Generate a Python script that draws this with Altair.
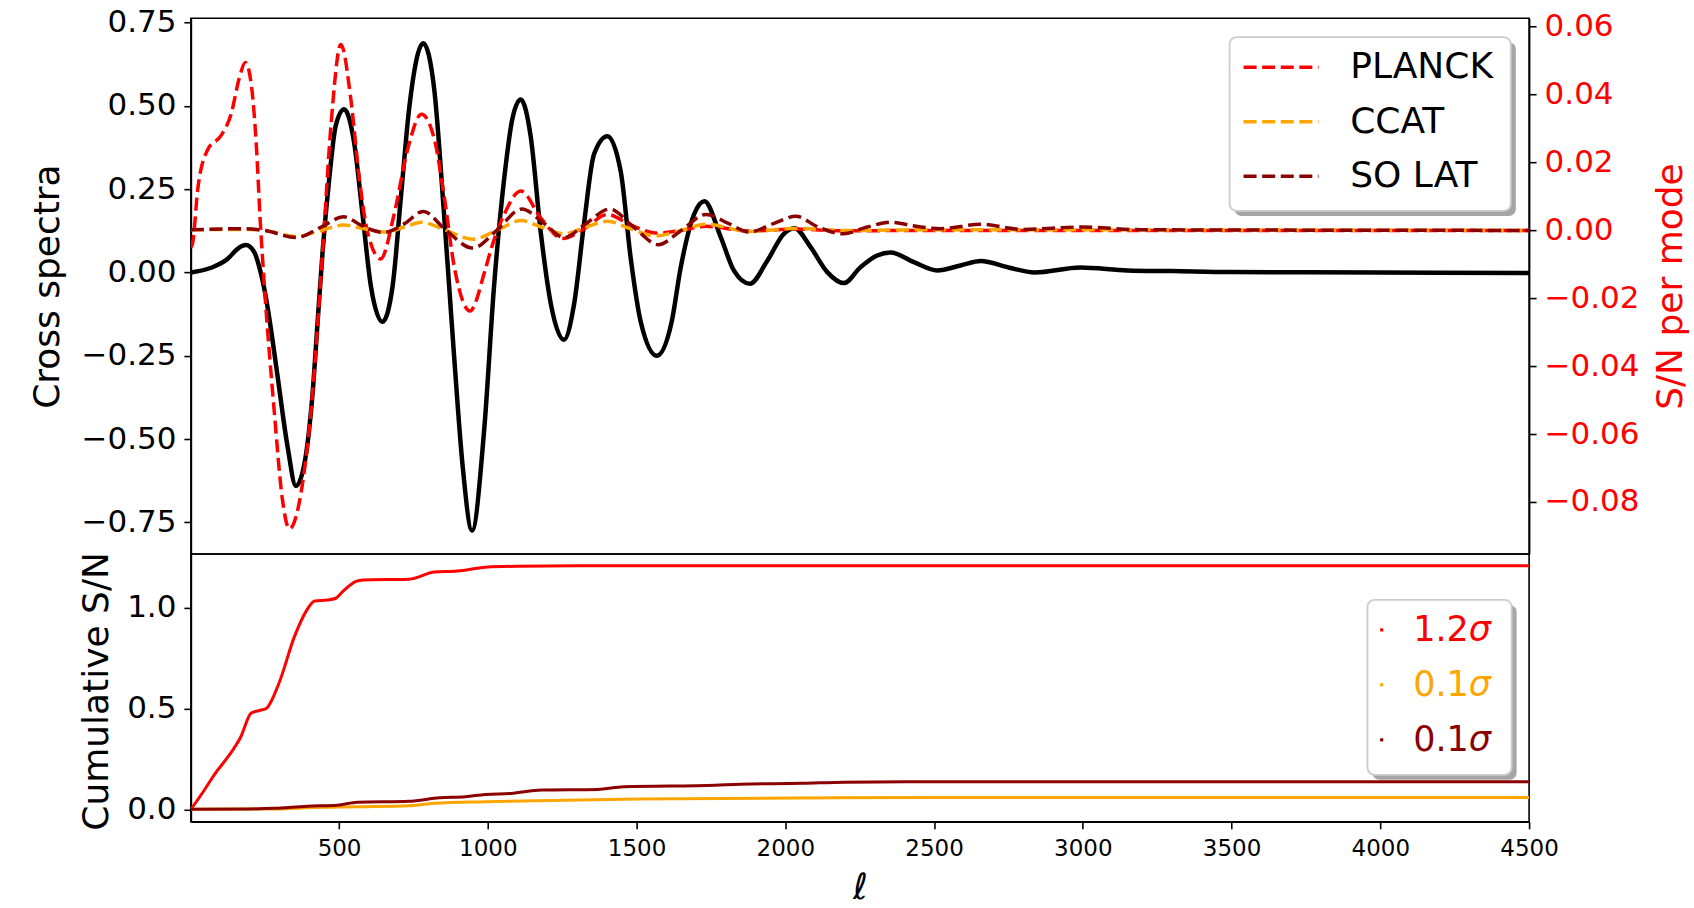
import altair as alt
import pandas as pd

FONT = "DejaVu Sans"
RED, ORANGE, DARKRED = "#ff0000", "#ffa500", "#8b0000"
SHADOW = "#a6a6a6"

# ---------------- data ----------------
# Cross spectrum (black, left axis of the upper panel)
cross_ell = [2, 70, 126, 159, 187, 215, 232, 243, 254, 265, 293, 327, 355, 383, 411, 428, 445,
             467, 489, 517, 551, 579, 607, 646, 680, 708, 736, 783, 820, 853, 887, 915, 947, 988,
             1021, 1055, 1083, 1111, 1144, 1178, 1212, 1256, 1290, 1324, 1357, 1402, 1447, 1480,
             1514, 1568, 1618, 1648, 1693, 1728, 1783, 1827, 1881, 1940, 1995, 2031, 2085, 2141,
             2197, 2253, 2309, 2354, 2432, 2511, 2589, 2657, 2750, 2838, 2992, 3150, 3300, 3500,
             4000, 4500]
cross_val = [0.0, 0.014, 0.041, 0.071, 0.082, 0.061, 0.016, -0.024, -0.074, -0.134, -0.309,
             -0.523, -0.641, -0.577, -0.363, -0.148, 0.066, 0.281, 0.441, 0.490, 0.388, 0.174,
             -0.041, -0.148, -0.041, 0.227, 0.495, 0.688, 0.549, 0.174, -0.255, -0.577, -0.775,
             -0.47, -0.041, 0.281, 0.463, 0.519, 0.409, 0.12, -0.095, -0.202, -0.095, 0.151,
             0.355, 0.409, 0.302, 0.045, -0.148, -0.25, -0.148, 0.013, 0.174, 0.214, 0.106,
             0.006, -0.034, 0.036, 0.116, 0.133, 0.076, 0.001, -0.032, 0.016, 0.051, 0.060, 0.031,
             0.006, 0.021, 0.034, 0.015, 0.0, 0.015, 0.006, 0.004, 0.001, 0.0, -0.002]

# S/N per mode (dashed, right axis of the upper panel)
planck_ell = [2, 8, 25, 58, 103, 137, 165, 185, 205, 222, 235, 249, 282, 310, 333, 372, 411, 445,
              473, 506, 540, 568, 596, 640, 685, 730, 777, 820, 850, 890, 940, 990, 1010, 1055,
              1111, 1178, 1251, 1324, 1402, 1480, 1570, 1650, 1734, 1880, 2030, 2200, 2500, 4500]
planck_sn = [-0.005, -0.0037, 0.0121, 0.0237, 0.0279, 0.0342, 0.045, 0.0495, 0.043, 0.025, 0.003,
             -0.0163, -0.0531, -0.0795, -0.0879, -0.0774, -0.0479, -0.0058, 0.0311, 0.0548, 0.0384,
             0.0153, -0.0005, -0.0084, 0.0047, 0.0237, 0.0342, 0.027, 0.012, -0.012, -0.0237,
             -0.012, -0.0058, 0.0047, 0.0116, 0.0037, -0.0024, 0.0005, 0.0047, 0.0016, -0.0008,
             0.0, 0.0012, -0.0002, 0.0004, -0.0001, 0.0, 0.0]

ccat_ell = [2, 200, 250, 355, 440, 515, 585, 652, 720, 777, 860, 949, 1030, 1111, 1180, 1256,
            1330, 1402, 1480, 1565, 1650, 1734, 1880, 2030, 2200, 2500, 4500]
ccat_sn = [0.0002, 0.0003, 0.0, -0.0018, 0.0, 0.0016, 0.0005, -0.0005, 0.001, 0.0024, 0.0,
           -0.0026, 0.0, 0.0029, 0.001, -0.001, 0.001, 0.0027, 0.0005, -0.0016, 0.0, 0.0018,
           -0.0003, 0.0006, 0.0, 0.0002, 0.0]

solat_ell = [2, 180, 250, 355, 440, 515, 585, 652, 720, 783, 860, 949, 1030, 1114, 1190, 1256,
             1330, 1410, 1490, 1573, 1650, 1734, 1810, 1878, 1960, 2036, 2110, 2195, 2275, 2354,
             2440, 2521, 2657, 2799, 2992, 3200, 4500]
solat_sn = [0.0002, 0.0005, 0.0, -0.0021, 0.001, 0.004, 0.001, -0.0006, 0.002, 0.0056, 0.0,
            -0.0052, 0.0, 0.0063, 0.002, -0.0021, 0.002, 0.0063, 0.001, -0.0042, 0.0, 0.0047,
            0.002, -0.0005, 0.002, 0.0042, 0.001, -0.001, 0.001, 0.0024, 0.0012, 0.0005, 0.0018,
            0.0003, 0.001, 0.0002, 0.0]

# Cumulative S/N (lower panel)
cum_planck_ell = [2, 40, 84, 127, 170, 204, 230, 255, 298, 350, 392, 418, 461, 487, 512, 555, 581,
                  735, 821, 898, 992, 1100, 1300, 4500]
cum_planck = [0.0, 0.08, 0.179, 0.261, 0.36, 0.476, 0.489, 0.5, 0.625, 0.856, 0.989, 1.033, 1.038,
              1.045, 1.079, 1.129, 1.137, 1.141, 1.176, 1.181, 1.2, 1.205, 1.207, 1.208]

cum_ccat_ell = [2, 300, 392, 561, 735, 821, 992, 1164, 1507, 2055, 2500, 4500]
cum_ccat = [0.0, 0.002, 0.008, 0.013, 0.018, 0.03, 0.038, 0.043, 0.051, 0.056, 0.059, 0.059]

cum_solat_ell = [2, 200, 280, 392, 494, 561, 735, 838, 924, 992, 1078, 1181, 1370, 1456, 1765,
                 1850, 2055, 2200, 2500, 4500]
cum_solat = [0.0, 0.002, 0.005, 0.016, 0.021, 0.035, 0.04, 0.058, 0.063, 0.074, 0.079, 0.096,
             0.099, 0.112, 0.12, 0.125, 0.129, 0.135, 0.137, 0.137]

experiments = ["PLANCK", "CCAT", "SO LAT"]
colors = [RED, ORANGE, DARKRED]
sn_series = [(planck_ell, planck_sn), (ccat_ell, ccat_sn), (solat_ell, solat_sn)]
cum_series = [(cum_planck_ell, cum_planck), (cum_ccat_ell, cum_ccat), (cum_solat_ell, cum_solat)]

# axis ticks and ranges
ell_ticks = [500, 1000, 1500, 2000, 2500, 3000, 3500, 4000, 4500]
cross_ticks = [-0.75, -0.5, -0.25, 0.0, 0.25, 0.5, 0.75]
sn_ticks = [-0.08, -0.06, -0.04, -0.02, 0.0, 0.02, 0.04, 0.06]
cum_ticks = [0.0, 0.5, 1.0]
ell_domain = [2, 4500]
cross_domain = [-0.845, 0.763]
sn_domain = [-0.0953, 0.0625]
cum_domain = [-0.0615, 1.266]

# ---------------- layout ----------------
W, H_TOP, H_BOT = 1339, 536, 268
DASH = [13, 5.6]
one = pd.DataFrame({"k": [0]})


def legend_frame(x0, y0, x1, y1):
    shadow = alt.Chart(one).mark_rect(color=SHADOW, cornerRadius=7).encode(
        x=alt.value(x0 + 5), x2=alt.value(x1 + 5), y=alt.value(y0 + 5), y2=alt.value(y1 + 5))
    frame = alt.Chart(one).mark_rect(fill="white", stroke="#cccccc", strokeWidth=1.8,
                                     cornerRadius=7).encode(
        x=alt.value(x0), x2=alt.value(x1), y=alt.value(y0), y2=alt.value(y1))
    return [shadow, frame]


# ---------------- upper panel ----------------
x_top = alt.X("ell:Q", scale=alt.Scale(domain=ell_domain, nice=False, zero=False), axis=None)

black = alt.Chart(pd.DataFrame({"ell": cross_ell, "value": cross_val})).mark_line(
    color="black", strokeWidth=4.5, interpolate="monotone", clip=True
).encode(
    x=x_top,
    y=alt.Y("value:Q", scale=alt.Scale(domain=cross_domain, nice=False, zero=False),
            axis=alt.Axis(orient="left", values=cross_ticks, format=".2f", title="Cross spectra",
                          titleX=-124, titleY=H_TOP / 2, titleAngle=270,
                          titleBaseline="bottom", titleAlign="center")),
)

sn_scale = alt.Scale(domain=sn_domain, nice=False, zero=False)
sn_axis = alt.Axis(orient="right", values=sn_ticks, format=".2f", title="S/N per mode",
                   labelColor=RED, titleColor=RED, titleX=160, titleY=H_TOP / 2,
                   titleAngle=270, titleBaseline="bottom", titleAlign="center")
dashed_layers = []
for name, color, (ell, sn) in zip(experiments, colors, sn_series):
    dashed_layers.append(
        alt.Chart(pd.DataFrame({"ell": ell, "sn": sn, "experiment": name})).mark_line(
            color=color, strokeWidth=3.5, strokeDash=DASH, interpolate="monotone", clip=True
        ).encode(x=x_top, y=alt.Y("sn:Q", scale=sn_scale, axis=sn_axis))
    )
dashed = alt.layer(*dashed_layers)

legend_top = legend_frame(1039.3, 18.9, 1320.7, 192.8)
for i, (name, color) in enumerate(zip(experiments, colors)):
    yy = 48.9 + i * 54.6
    legend_top.append(alt.Chart(one).mark_rule(color=color, strokeWidth=3.5, strokeDash=DASH).encode(
        x=alt.value(1053.3), x2=alt.value(1128.3), y=alt.value(yy)))
    legend_top.append(alt.Chart(one).mark_text(align="left", baseline="middle", fontSize=36,
                                              color="black", font=FONT).encode(
        x=alt.value(1160), y=alt.value(yy), text=alt.value(name)))

top = alt.layer(black, dashed, *legend_top).resolve_scale(y="independent").properties(
    width=W, height=H_TOP)

# ---------------- lower panel ----------------
x_bot = alt.X("ell:Q", scale=alt.Scale(domain=ell_domain, nice=False, zero=False),
              axis=alt.Axis(values=ell_ticks, format="d", title="ℓ", labelFontSize=23,
                            labelPadding=9, titleFontSize=36, titleFontStyle="italic",
                            titleY=49, titleBaseline="top"))
cum_scale = alt.Scale(domain=cum_domain, nice=False, zero=False)
cum_axis = alt.Axis(orient="left", values=cum_ticks, format=".1f", title="Cumulative S/N",
                    titleX=-75.4, titleY=137, titleAngle=270, titleBaseline="bottom",
                    titleAlign="center")

cum_layers = []
for name, color, (ell, cum) in zip(experiments, colors, cum_series):
    cum_layers.append(
        alt.Chart(pd.DataFrame({"ell": ell, "cum": cum, "experiment": name})).mark_line(
            color=color, strokeWidth=3, interpolate="monotone", clip=True
        ).encode(x=x_bot, y=alt.Y("cum:Q", scale=cum_scale, axis=cum_axis))
    )

legend_bot = legend_frame(1177.3, 46, 1321.5, 221)
for i, (color, (ell, cum)) in enumerate(zip(colors, cum_series)):
    yy = 76 + i * 55
    label = f"{cum[-1]:.1f}"
    legend_bot.append(alt.Chart(one).mark_square(size=10, color=color, opacity=1).encode(
        x=alt.value(1191.5), y=alt.value(yy)))
    legend_bot.append(alt.Chart(one).mark_text(align="left", baseline="middle", fontSize=35,
                                              color=color, font=FONT).encode(
        x=alt.value(1223), y=alt.value(yy), text=alt.value(label)))
    legend_bot.append(alt.Chart(one).mark_text(align="left", baseline="middle", fontSize=35,
                                              color=color, font=FONT, fontStyle="italic").encode(
        x=alt.value(1223 + 35 * len(label) * 0.53), y=alt.value(yy), text=alt.value("σ")))

bottom = alt.layer(*cum_layers, *legend_bot).properties(width=W, height=H_BOT)

chart = alt.vconcat(top, bottom, spacing=0, bounds="flush").resolve_scale(
    x="independent", y="independent"
).properties(
    padding={"left": 29, "top": 5, "right": 5, "bottom": 0}
).configure(font=FONT).configure_view(
    stroke="black", strokeWidth=1.6
).configure_axis(
    grid=False, labelFont=FONT, titleFont=FONT, labelFontSize=31, titleFontSize=36,
    titleFontWeight="normal", labelColor="black", titleColor="black", tickColor="black",
    domainColor="black", tickSize=7, tickWidth=1.6, domainWidth=1.6, labelPadding=8,
    labelFlush=False, labelOverlap=False,
)

chart.save("out.html", embed_options={"renderer": "svg", "actions": False})
